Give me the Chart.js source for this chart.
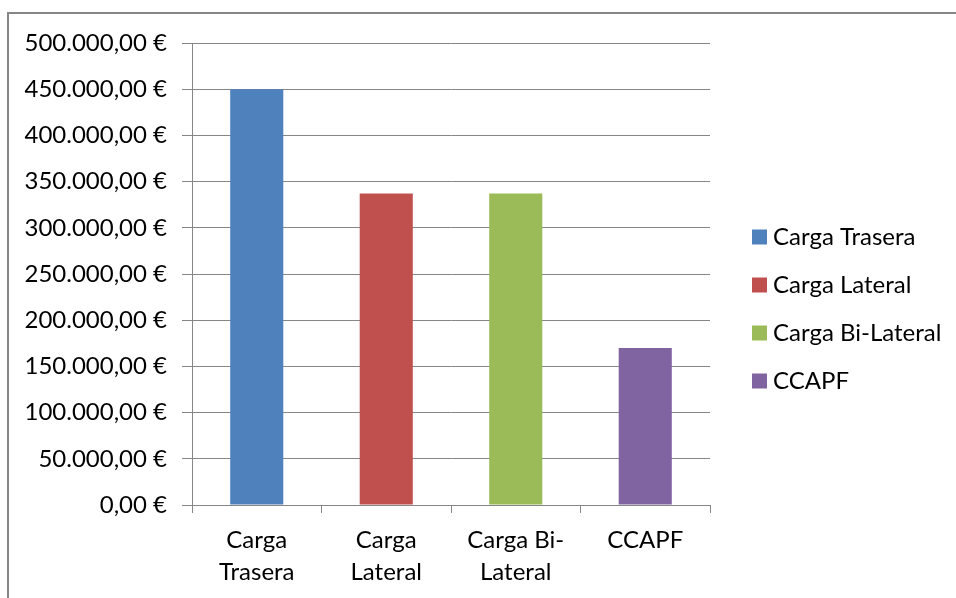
<!DOCTYPE html>
<html>
<head>
<meta charset="utf-8">
<script src="https://cdn.jsdelivr.net/npm/chart.js@4.4.1/dist/chart.umd.min.js"></script>
<style>
  html, body { margin: 0; padding: 0; background: #fff; }
  #wrap { width: 956px; height: 598px; }
</style>
</head>
<body>
<div id="wrap"><canvas id="c" width="956" height="598"></canvas></div>
<script>
// Categories (axis labels, split over two lines) and legend names
const categories = [['Carga', 'Trasera'], ['Carga', 'Lateral'], ['Carga Bi-', 'Lateral'], 'CCAPF'];
const seriesNames = ['Carga Trasera', 'Carga Lateral', 'Carga Bi-Lateral', 'CCAPF'];

// Cost per collection system, in euros
const costs = [450000, 337000, 337000, 170000];

// Value axis range and tick spacing
const yMin = 0;
const yMax = 500000;
const yStep = 50000;

const barColors = ['#4F81BD', '#C0504D', '#9BBB59', '#8064A2'];
const lineColor = '#868686';
const FONT = { family: 'Lato', size: 24 };

// Spanish currency format: 450.000,00 €
function euro(v) {
  const parts = Number(v).toFixed(2).split('.');
  const intPart = parts[0].replace(/\B(?=(\d{3})+(?!\d))/g, '.');
  return intPart + ',' + parts[1] + '\u00a0€';
}

// White background and the grey frame round the chart
const framePlugin = {
  id: 'frame',
  beforeDraw(chart) {
    const ctx = chart.ctx;
    ctx.save();
    ctx.fillStyle = '#ffffff';
    ctx.fillRect(0, 0, chart.width, chart.height);
    ctx.strokeStyle = lineColor;
    ctx.lineWidth = 2;
    ctx.strokeRect(8, 13, chart.width + 40, chart.height + 40);
    ctx.restore();
  }
};

// Fixed legend column width, with a gap between plot and legend
const LEGEND_WIDTH = 246;
const LEGEND_GAP = 24;
const LEGEND_SHIFT_Y = -11.5;
const legendPlacement = {
  id: 'legendPlacement',
  beforeLayout(chart) {
    const lg = chart.legend;
    if (lg && !lg._fixedWidth) {
      const fit = lg.fit;
      lg.fit = function () {
        fit.call(this);
        this.width = LEGEND_WIDTH;
      };
      lg._fixedWidth = true;
    }
  },
  afterLayout(chart) {
    const lg = chart.legend;
    if (lg) {
      lg.left += LEGEND_GAP;
      lg.right += LEGEND_GAP;
      lg.top += LEGEND_SHIFT_Y;
      lg.bottom += LEGEND_SHIFT_Y;
    }
  }
};

Chart.defaults.font.family = FONT.family;
Chart.defaults.font.size = FONT.size;
Chart.defaults.color = '#000';

new Chart(document.getElementById('c').getContext('2d'), {
  type: 'bar',
  data: {
    labels: categories,
    datasets: [{
      data: costs,
      backgroundColor: barColors,
      borderWidth: 0,
      barPercentage: 0.41,
      categoryPercentage: 1
    }]
  },
  options: {
    responsive: false,
    animation: false,
    devicePixelRatio: 1,
    layout: { padding: { top: 43, bottom: 0, left: 0, right: 0 } },
    plugins: {
      tooltip: { enabled: false },
      legend: {
        position: 'right',
        onClick: null,
        labels: {
          usePointStyle: true,
          pointStyle: 'rect',
          boxWidth: 3,
          boxHeight: 15,
          padding: 24,
          color: '#000',
          font: FONT,
          generateLabels: () => seriesNames.map((name, i) => ({
            text: name,
            fillStyle: barColors[i],
            strokeStyle: barColors[i],
            lineWidth: 0,
            pointStyle: 'rect',
            hidden: false,
            index: i
          }))
        }
      }
    },
    scales: {
      x: {
        offset: true,
        grid: {
          display: true,
          offset: true,
          drawOnChartArea: false,
          drawTicks: true,
          tickLength: 8,
          color: lineColor
        },
        border: { display: true, color: lineColor },
        ticks: {
          padding: 11,
          color: '#000',
          autoSkip: false,
          maxRotation: 0,
          font: { family: FONT.family, size: FONT.size, lineHeight: 1.333 }
        },
        afterFit(scale) { scale.height = 93; }
      },
      y: {
        min: yMin,
        max: yMax,
        grid: { color: lineColor, tickLength: 10 },
        border: { display: true, color: lineColor },
        ticks: {
          stepSize: yStep,
          padding: 15,
          color: '#000',
          font: FONT,
          callback: (v) => euro(v)
        },
        afterFit(scale) { scale.width = 192; }
      }
    }
  },
  plugins: [framePlugin, legendPlacement]
});
</script>
</body>
</html>
